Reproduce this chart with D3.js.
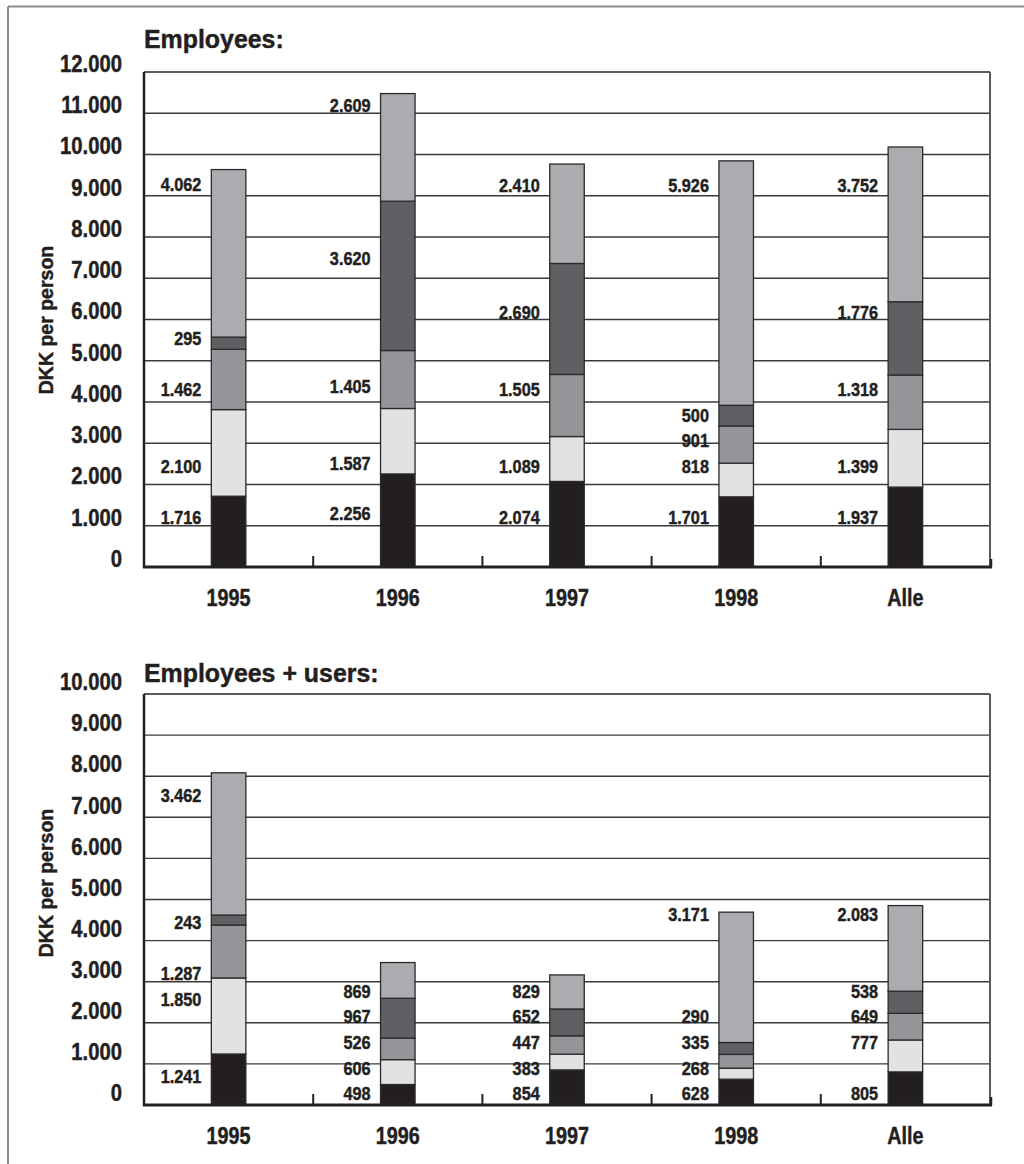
<!DOCTYPE html>
<html>
<head>
<meta charset="utf-8">
<script src="https://cdn.jsdelivr.net/npm/d3@7"></script>
<style>
  html, body { margin: 0; padding: 0; background: #fff; }
  svg { display: block; }
  text { font-family: "Liberation Sans", Arial, sans-serif; font-weight: bold; fill: #231f20;
         stroke: #231f20; stroke-width: 0.45px; }
</style>
</head>
<body>
<svg id="chart" width="1024" height="1164"></svg>
<script>
// Categories along the x axis
const categories = ["1995", "1996", "1997", "1998", "Alle"];

// Employees: DKK per person, one array per stacked layer (bottom to top)
const empLayer1 = [1716, 2256, 2074, 1701, 1937];
const empLayer2 = [2100, 1587, 1089, 818, 1399];
const empLayer3 = [1462, 1405, 1505, 901, 1318];
const empLayer4 = [295, 3620, 2690, 500, 1776];
const empLayer5 = [4062, 2609, 2410, 5926, 3752];

// Employees + users: DKK per person, same layer order
const usrLayer1 = [1241, 498, 854, 628, 805];
const usrLayer2 = [1850, 606, 383, 268, 777];
const usrLayer3 = [1287, 526, 447, 335, 649];
const usrLayer4 = [243, 967, 652, 290, 538];
const usrLayer5 = [3462, 869, 829, 3171, 2083];

// Y tick values
const empTicks = [0, 1000, 2000, 3000, 4000, 5000, 6000, 7000, 8000, 9000, 10000, 11000, 12000];
const usrTicks = [0, 1000, 2000, 3000, 4000, 5000, 6000, 7000, 8000, 9000, 10000];

// Titles
const empTitle = "Employees:";
const usrTitle = "Employees + users:";
const yTitle = "DKK per person";

// ---- layout & style (kept apart from the data) ----
const layerColors = ["#231f20", "#e1e2e4", "#939598", "#5f6064", "#abacaf"];

// Vertical level (in DKK) where each value label is centred, per category and layer
const empLabelLevels = [
  [1212, 2448, 4315, 5552, 9285],
  [1309, 2521, 4388, 7491, 11200],
  [1212, 2448, 4315, 6182, 9261],
  [1212, 2448, 3079, 3685, 9261],
  [1212, 2448, 4315, 6182, 9261]
];
const usrLabelLevels = [
  [706, 2579, 3212, 4453, 7543],
  [292, 900, 1533, 2165, 2774],
  [292, 900, 1533, 2165, 2774],
  [292, 900, 1533, 2165, 4647],
  [292, 1533, 2165, 2774, 4647]
];

const dk = d3.formatLocale({ decimal: ",", thousands: ".", grouping: [3], currency: ["", " kr."] });
const fmt = dk.format(",d");

// Narrow the bold face horizontally around each text's own anchor point
function squeeze(sel, sx) {
  sel.each(function () {
    const t = d3.select(this);
    const x = +t.attr("x") || 0, y = +t.attr("y") || 0;
    t.attr("x", 0).attr("y", 0)
      .attr("transform", `translate(${x},${y}) scale(${sx},1)`);
  });
}

const svg = d3.select("#chart");

// page frame
svg.append("line").attr("x1", 8).attr("x2", 1024).attr("y1", 6.5).attr("y2", 6.5)
  .attr("stroke", "#8a8a8a").attr("stroke-width", 2);
svg.append("line").attr("x1", 8).attr("x2", 8).attr("y1", 6.5).attr("y2", 1164)
  .attr("stroke", "#8a8a8a").attr("stroke-width", 2);

function buildRows(layers) {
  return categories.map((c, i) => {
    const row = { cat: c };
    layers.forEach((arr, k) => { row["l" + k] = arr[i]; });
    return row;
  });
}

function drawPanel(opts) {
  const { layers, ticks, labelLevels, top, bottom, title, titleBaseline, tickShift, yTitleY } = opts;
  const left = 144, right = 990;
  const keys = layers.map((_, k) => "l" + k);
  const rows = buildRows(layers);

  const x = d3.scaleBand().domain(categories).range([left, right])
    .paddingInner(0.796).paddingOuter(0.398);
  const y = d3.scaleLinear().domain([0, d3.max(ticks)]).range([bottom, top]);

  const g = svg.append("g");

  // horizontal gridlines
  g.append("g").selectAll("line").data(ticks.filter(t => t > 0)).join("line")
    .attr("x1", left).attr("x2", right)
    .attr("y1", d => y(d)).attr("y2", d => y(d))
    .attr("stroke", d => d === d3.max(ticks) ? "#5a5a5a" : "#3a3a3a")
    .attr("stroke-width", d => d === d3.max(ticks) ? 2 : 1.4);

  // right frame line
  g.append("line").attr("x1", right).attr("x2", right).attr("y1", y(d3.max(ticks))).attr("y2", bottom)
    .attr("stroke", "#5a5a5a").attr("stroke-width", 2);

  // stacked bars
  const stacked = d3.stack().keys(keys)(rows);
  g.append("g").selectAll("g").data(stacked).join("g")
    .attr("fill", (d, k) => layerColors[k])
    .selectAll("rect").data(d => d).join("rect")
    .attr("x", d => x(d.data.cat))
    .attr("width", x.bandwidth())
    .attr("y", d => y(d[1]))
    .attr("height", d => y(d[0]) - y(d[1]))
    .attr("stroke", "#2a2a2a").attr("stroke-width", 1.3);

  // value labels to the left of each bar
  const labels = [];
  categories.forEach((c, i) => {
    layers.forEach((arr, k) => {
      labels.push({ cat: c, value: arr[i], level: labelLevels[i][k] });
    });
  });
  g.append("g").selectAll("text").data(labels).join("text")
    .attr("x", d => x(d.cat) - 10)
    .attr("y", d => y(d.level))
    .attr("dy", "0.36em")
    .attr("text-anchor", "end")
    .style("font-size", "18.5px")
    .text(d => fmt(d.value))
    .call(squeeze, 0.88);

  // y axis labels
  const yAxis = d3.axisLeft(y).tickValues(ticks).tickFormat(fmt).tickSize(0).tickPadding(22);
  const ya = g.append("g").attr("transform", `translate(${left},0)`).call(yAxis);
  ya.select(".domain").remove();
  ya.selectAll("text").attr("y", -tickShift).attr("dy", "0.36em")
    .style("font-size", "23px").attr("fill", "#231f20")
    .call(squeeze, 0.88);
  ya.attr("font-family", null).attr("font-size", null);

  // left axis line
  g.append("line").attr("x1", left).attr("x2", left).attr("y1", top).attr("y2", bottom + 1)
    .attr("stroke", "#222").attr("stroke-width", 2.5);

  // category boundary ticks
  const bounds = categories.slice(1).map(c => x(c) - x.step() * x.paddingInner() / 2);
  g.append("g").selectAll("line").data(bounds).join("line")
    .attr("x1", d => d).attr("x2", d => d).attr("y1", bottom).attr("y2", bottom - 11)
    .attr("stroke", "#222").attr("stroke-width", 2);
  g.append("line").attr("x1", right + 1).attr("x2", right + 1).attr("y1", bottom).attr("y2", bottom - 8)
    .attr("stroke", "#222").attr("stroke-width", 2.5);

  // x axis
  const xAxis = d3.axisBottom(x).tickSize(0).tickPadding(0);
  const xa = g.append("g").attr("transform", `translate(0,${bottom})`).call(xAxis);
  xa.select(".domain").remove();
  xa.attr("font-family", null).attr("font-size", null);
  xa.selectAll("text").attr("y", 31).attr("dy", "0.36em")
    .style("font-size", "23px").attr("fill", "#231f20")
    .call(squeeze, 0.86);
  g.append("line").attr("x1", left - 1).attr("x2", right + 2).attr("y1", bottom).attr("y2", bottom)
    .attr("stroke", "#222").attr("stroke-width", 3);

  // panel title
  g.append("text").attr("x", left).attr("y", titleBaseline)
    .style("font-size", "26.5px").text(title)
    .call(squeeze, 0.94);

  // y axis title
  g.append("text")
    .attr("transform", `translate(53,${yTitleY}) rotate(-90)`)
    .attr("text-anchor", "middle")
    .style("font-size", "19.5px")
    .text(yTitle);
}

drawPanel({
  layers: [empLayer1, empLayer2, empLayer3, empLayer4, empLayer5],
  ticks: empTicks, labelLevels: empLabelLevels,
  top: 72, bottom: 567, title: empTitle, titleBaseline: 48, tickShift: 9, yTitleY: 320
});
drawPanel({
  layers: [usrLayer1, usrLayer2, usrLayer3, usrLayer4, usrLayer5],
  ticks: usrTicks, labelLevels: usrLabelLevels,
  top: 694, bottom: 1105, title: usrTitle, titleBaseline: 682, tickShift: 12.5, yTitleY: 883
});
</script>
</body>
</html>
